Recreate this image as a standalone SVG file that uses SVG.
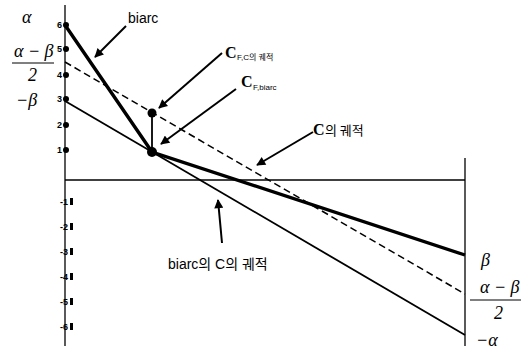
<svg xmlns="http://www.w3.org/2000/svg" width="523" height="351" viewBox="0 0 523 351">
<defs>
<marker id="ah" viewBox="0 0 10 10" refX="9" refY="5" markerWidth="10" markerHeight="9" orient="auto" markerUnits="userSpaceOnUse"><path d="M0,0 L10,5 L0,10 z" fill="#000"/></marker>
<style>
.ax{stroke:#000;stroke-width:1.3;fill:none}
.thick{stroke:#000;stroke-width:3.4;fill:none}
.thin{stroke:#000;stroke-width:1.8;fill:none}
.dash{stroke:#000;stroke-width:1.5;fill:none;stroke-dasharray:7 4}
.arr{stroke:#000;stroke-width:2;fill:none;marker-end:url(#ah)}
.gr{font-family:"Liberation Serif",serif;font-style:italic;font-size:18px;fill:#000}
.num{font-family:"Liberation Sans",sans-serif;font-weight:bold;font-size:9px;fill:#000}
.lbl{font-family:"Liberation Sans","Noto Sans CJK KR",sans-serif;font-size:14px;fill:#000}
.kr{font-family:"Noto Sans CJK KR",sans-serif;fill:#000}
.cs{font-family:"Liberation Serif",serif;font-weight:bold;font-size:16px;fill:#000}
.sub{font-family:"Liberation Sans","Noto Sans CJK KR",sans-serif;font-size:8px;fill:#000}
</style>
</defs>
<rect width="523" height="351" fill="#fff"/>
<g id="axes">
<line class="ax" x1="65" y1="5" x2="65" y2="346"/>
<line class="ax" x1="465" y1="158" x2="465" y2="346"/>
<line class="ax" x1="65" y1="180" x2="465" y2="180"/>
</g>
<g id="ticks">
<text class="num" x="62" y="28" text-anchor="end">6</text><circle cx="66" cy="25" r="3"/>
<text class="num" x="62" y="52" text-anchor="end">5</text><circle cx="66" cy="49" r="3"/>
<text class="num" x="62" y="78" text-anchor="end">4</text><circle cx="66" cy="75" r="3"/>
<text class="num" x="62" y="102" text-anchor="end">3</text><circle cx="66" cy="99" r="3"/>
<text class="num" x="62" y="128" text-anchor="end">2</text><circle cx="66" cy="125" r="3"/>
<text class="num" x="62" y="153" text-anchor="end">1</text><circle cx="66" cy="150" r="3"/>
<text class="num" x="68" y="205" text-anchor="end">-1</text><rect x="70" y="198" width="3" height="7"/>
<text class="num" x="68" y="230" text-anchor="end">-2</text><rect x="70" y="223" width="3" height="7"/>
<text class="num" x="68" y="255" text-anchor="end">-3</text><rect x="70" y="248" width="3" height="7"/>
<text class="num" x="68" y="280" text-anchor="end">-4</text><rect x="70" y="273" width="3" height="7"/>
<text class="num" x="68" y="305" text-anchor="end">-5</text><rect x="70" y="298" width="3" height="7"/>
<text class="num" x="68" y="330" text-anchor="end">-6</text><rect x="70" y="323" width="3" height="7"/>
</g>
<g id="connectors">
<polyline class="thick" points="65,25 152,152 465,255"/>
<line class="dash" x1="65" y1="62" x2="465" y2="294"/>
<line class="thin" x1="65" y1="101" x2="465" y2="335"/>
<line class="thin" x1="152" y1="113" x2="152" y2="152"/>
<line class="arr" x1="126" y1="26" x2="95" y2="57"/>
<line class="arr" x1="222" y1="53" x2="159" y2="108"/>
<line class="arr" x1="236" y1="89" x2="161" y2="144"/>
<line class="arr" x1="313" y1="132" x2="257" y2="165"/>
<line class="arr" x1="222" y1="243" x2="218" y2="200"/>
</g>
<g id="points">
<circle cx="152" cy="113" r="4.5"/>
<circle cx="152" cy="152" r="5"/>
</g>
<g id="left-labels">
<text class="gr" x="22" y="23">α</text>
<text class="gr" x="14" y="57">α − β</text>
<line x1="12" y1="63" x2="54" y2="63" stroke="#000" stroke-width="1"/>
<text class="gr" x="28" y="81" font-style="normal">2</text>
<text class="gr" x="16" y="106">−β</text>
</g>
<g id="right-labels">
<text class="gr" x="481" y="266">β</text>
<text class="gr" x="480" y="293">α − β</text>
<line x1="470" y1="300" x2="521" y2="300" stroke="#000" stroke-width="1"/>
<text class="gr" x="494" y="319" font-style="normal">2</text>
<text class="gr" x="476" y="346">−α</text>
</g>
<g id="label-biarc"><text class="lbl" x="128" y="23" font-size="15">biarc</text></g>
<g id="label-cfc"><text class="cs" x="225" y="58">C</text><text class="sub" x="237" y="60">F,C의  궤적</text></g>
<g id="label-cfb"><text class="cs" x="241" y="87">C</text><text class="sub" x="253" y="90">F,biarc</text></g>
<g id="label-c"><text class="cs" x="313" y="135">C</text><text class="kr" x="325" y="135" font-size="13">의  궤적</text></g>
<g id="label-biarc-c"><text class="lbl" x="168" y="269" font-size="13">biarc의 C의 궤적</text></g>
</svg>
